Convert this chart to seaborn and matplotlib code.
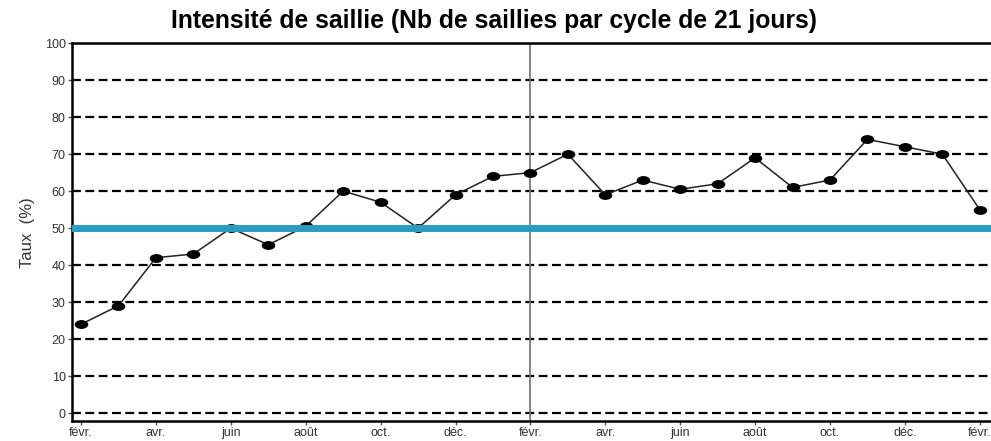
import matplotlib
matplotlib.use("Agg")
import matplotlib.pyplot as plt
from matplotlib.path import Path
import seaborn as sns
import pandas as pd

title = "Intensité de saillie (Nb de saillies par cycle de 21 jours)"
y_label = "Taux  (%)"
tick_labels = ["févr.", "avr.", "juin", "août", "oct.", "déc.",
               "févr.", "avr.", "juin", "août", "oct.", "déc.", "févr."]
values = [24, 29, 42, 43, 50, 45.5, 50.5, 60, 57, 50, 59, 64, 65,
          70, 59, 63, 60.5, 62, 69, 61, 63, 74, 72, 70, 55]
objective = 50
year_break = 12

df = pd.DataFrame({"mois": range(len(values)), "taux": values})

sns.set_style("white")
plt.rcParams["font.family"] = ["Liberation Sans", "DejaVu Sans"]

circle = Path.unit_circle()
ellipse = Path(circle.vertices * [1.0, 0.62], circle.codes)

fig = plt.figure(figsize=(9.91, 4.41), dpi=100)
ax = fig.add_axes([0.0727, 0.045, 0.9273, 0.857])

for v in range(0, 101, 10):
    ax.axhline(v, color="black", lw=1.6, ls=(0, (4, 2)), zorder=1)
ax.axhline(objective, color="#2a9cc4", lw=5, zorder=4)
ax.axvline(year_break, color="#707070", lw=1.2, zorder=2)

sns.lineplot(data=df, x="mois", y="taux", ax=ax, color="#222222", lw=1.1,
             marker=ellipse, markersize=9, markeredgecolor="black",
             markerfacecolor="black", zorder=3)

ax.set_xlim(-0.24, 24.3)
ax.set_ylim(-2.2, 100)
ax.set_xticks(range(0, len(values), 2))
ax.set_xticklabels(tick_labels)
ax.set_yticks(range(0, 101, 10))
ax.tick_params(axis="both", labelsize=9, colors="#555555", length=3,
               width=1, direction="out", pad=1.5, left=True, bottom=True)
for lab in ax.get_xticklabels() + ax.get_yticklabels():
    lab.set_color("#333333")
ax.set_xlabel("")
ax.set_ylabel(y_label, fontsize=12, color="#333333", labelpad=7)
for s in ["left", "bottom", "top"]:
    ax.spines[s].set_visible(True)
    ax.spines[s].set_color("black")
    ax.spines[s].set_linewidth(1.8)
ax.spines["right"].set_visible(False)

fig.text(0.4985, 0.952, title, ha="center", va="center", fontsize=17.8,
         fontweight="bold", color="black")

fig.savefig("out.png", dpi=100)
